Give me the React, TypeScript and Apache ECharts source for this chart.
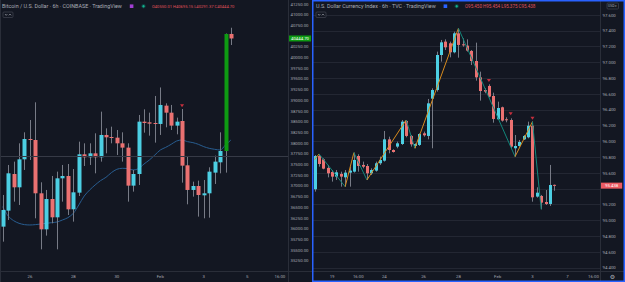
import React, { useEffect, useRef } from 'react';
import * as echarts from 'echarts';

// ---------- Left pane: Bitcoin / U.S. Dollar · 6h · COINBASE ----------
const leftOpen = [36048, 36422, 37278, 36967, 37621, 38096, 38073, 36827, 35985, 36694, 36266, 37177, 37232, 36453, 36842, 37738, 37668, 37761, 37668, 38190, 38143, 38127, 37995, 37894, 37006, 37278, 38501, 38486, 38470, 38447, 38875, 38711, 38408, 38517, 37481, 36905, 36998, 36780, 36827, 37310, 37551, 37816, 40550.01];
const leftHigh = [36788, 37489, 37567, 37995, 38252, 38540, 38953, 37084, 36905, 37232, 37333, 37489, 37512, 37395, 38034, 37995, 37995, 38229, 38735, 38345, 38384, 38306, 38252, 37995, 37372, 38657, 38789, 38711, 39101, 39300, 38929, 38891, 38595, 38797, 37683, 37099, 37123, 37138, 37434, 37707, 38252, 40560, 40695.15];
const leftLow = [35697, 36204, 36632, 36554, 37372, 37606, 36243, 35518, 35838, 36126, 35518, 36632, 36320, 36165, 36764, 37465, 37489, 37294, 37567, 37761, 37995, 37722, 37567, 36632, 36866, 37021, 38244, 38174, 38011, 38190, 38369, 38306, 38205, 37076, 36570, 36749, 36282, 36243, 36258, 37045, 37294, 37310, 40291.37];
const leftClose = [36437, 37294, 36967, 37621, 38096, 38073, 36827, 35985, 36694, 36266, 37177, 37232, 36453, 36850, 37738, 37668, 37761, 37668, 38190, 38135, 38127, 37995, 37894, 37006, 37278, 38501, 38470, 38454, 38447, 38891, 38711, 38408, 38501, 37473, 36905, 36998, 36788, 36827, 37333, 37567, 37816, 40550, 40444.7];
const leftMA = [36515, 36297, 36188, 36126, 36095, 36087, 36095, 36110, 36126, 36141, 36157, 36204, 36258, 36359, 36554, 36764, 36905, 37021, 37123, 37200, 37310, 37388, 37411, 37403, 37372, 37403, 37512, 37606, 37722, 37839, 37901, 37972, 38049, 38073, 38034, 38011, 37972, 37917, 37878, 37855, 37839, 37956, 38073];
const leftCategoryCount = 53;
const leftTickIndex = [5, 13, 21, 29, 37, 45, 51];
const leftTickText = ['26', '28', '30', 'Feb', '3', '5', '16:00'];
const leftHighlightIndex = 41;
const leftSignalIndex = [33];
const leftSignalValue = [38871];
const leftCrosshair = 37690;

// ---------- Right pane: U.S. Dollar Currency Index · 6h · TVC ----------
const rightOpen = [95.394, 95.815, 95.773, 95.664, 95.613, 95.554, 95.588, 95.545, 95.605, 95.617, 95.815, 95.702, 95.689, 95.596, 95.63, 95.723, 95.756, 96.026, 95.891, 95.934, 95.967, 96.259, 96.069, 95.942, 95.955, 96.102, 96.069, 96.541, 96.651, 97.094, 97.263, 97.242, 97.128, 97.368, 97.229, 97.212, 97.145, 97.018, 96.811, 96.651, 96.702, 96.575, 96.28, 96.432, 96.28, 96.271, 95.913, 95.942, 96.026, 96.052, 96.199, 95.301, 95.309, 95.233, 95.208, 95.45];
const rightHigh = [95.828, 95.841, 95.786, 95.702, 95.638, 95.638, 95.617, 95.638, 95.68, 95.858, 95.837, 95.744, 95.714, 95.659, 95.744, 95.807, 96.132, 96.06, 95.9, 95.997, 96.271, 96.271, 96.081, 95.976, 96.102, 96.124, 96.537, 96.672, 97.136, 97.284, 97.292, 97.263, 97.389, 97.432, 97.305, 97.292, 97.157, 97.25, 96.883, 96.672, 96.723, 96.617, 96.503, 96.44, 96.305, 96.292, 96.081, 96.018, 96.081, 96.25, 96.25, 95.419, 95.322, 95.385, 95.702, 95.454];
const rightLow = [95.364, 95.68, 95.647, 95.545, 95.491, 95.512, 95.427, 95.427, 95.427, 95.605, 95.617, 95.659, 95.512, 95.575, 95.617, 95.702, 95.744, 95.849, 95.858, 95.913, 95.955, 96.052, 95.934, 95.913, 95.942, 96.06, 96.026, 95.913, 96.63, 97.01, 97.157, 97.064, 97.115, 97.06, 97.199, 97.136, 96.967, 96.769, 96.516, 96.609, 96.558, 96.237, 96.271, 96.25, 96.242, 95.913, 95.807, 95.934, 96.018, 96.039, 95.237, 95.288, 95.14, 95.195, 95.183, 95.375];
const rightClose = [95.815, 95.714, 95.655, 95.596, 95.554, 95.609, 95.554, 95.605, 95.63, 95.765, 95.689, 95.68, 95.596, 95.638, 95.723, 95.765, 96.026, 95.891, 95.866, 95.976, 96.25, 96.069, 95.963, 95.967, 96.094, 96.077, 96.482, 96.651, 97.094, 97.254, 97.191, 97.128, 97.368, 97.221, 97.216, 97.149, 97.018, 96.811, 96.638, 96.63, 96.567, 96.284, 96.423, 96.263, 96.271, 95.934, 95.942, 95.993, 96.069, 96.199, 95.292, 95.351, 95.225, 95.208, 95.448, 95.438];
const rightZigIndex = [0, 1, 7, 9, 12, 21, 23, 33, 46, 50, 52];
const rightZigValue = [95.77, 95.841, 95.427, 95.858, 95.512, 96.271, 95.913, 97.432, 95.807, 96.25, 95.14];
const rightCategoryCount = 66;
const rightTickIndex = [4, 10, 16, 25, 33, 42, 50, 58, 64];
const rightTickText = ['19', '16:00', '24', '26', '28', 'Feb', '3', '7', '16:00'];
const rightSignalIndex = [40, 45, 50];
const rightSignalValue = [96.771, 96.349, 96.294];

// ---------- styles ----------
const BG = '#131722';
const TXT = '#a5a8b1';
const SEP = '#2a2e39';
const GRIDC = '#232733';
const UP = '#4ccfe3';
const DOWN = '#ea7171';
const HIGHLIGHT = '#0e9a12';
const WICK = '#777b86';
const MA = '#285d90';
const ORANGE = '#d88b1d';
const TEAL = '#12877b';
const SIGNAL = '#f23645';
const BLUE = '#2962ff';
const FONT = 'Roboto, "Liberation Sans", sans-serif';

function candleRenderer(up: string, down: string, ratio: number, special: Record<number, string>) {
  return (_params: any, api: any) => {
    const i = api.value(0);
    const o = api.value(1);
    const h = api.value(2);
    const l = api.value(3);
    const c = api.value(4);
    const pO = api.coord([i, o]);
    const yC = api.coord([i, c])[1];
    const yH = api.coord([i, h])[1];
    const yL = api.coord([i, l])[1];
    const band = api.size([1, 0])[0];
    const w = Math.max(1, Math.round(band * ratio));
    const cx = Math.round(pO[0]) + 0.5;
    const top = Math.min(pO[1], yC);
    const bh = Math.max(1, Math.abs(pO[1] - yC));
    const fill = special[i] || (c >= o ? up : down);
    return {
      type: 'group',
      children: [
        { type: 'line', shape: { x1: cx, y1: yH, x2: cx, y2: yL }, style: { stroke: WICK, lineWidth: 1 } },
        { type: 'rect', shape: { x: cx - w / 2, y: top, width: w, height: bh }, style: { fill } },
      ],
    };
  };
}

function ticks(count: number, idx: number[], text: string[]) {
  const arr: string[] = new Array(count).fill('');
  idx.forEach((k, j) => (arr[k] = text[j]));
  return arr;
}

export default function App() {
  const ref = useRef<HTMLDivElement>(null);
  useEffect(() => {
    document.body.style.margin = '0';
    document.body.style.background = BG;
    if (!ref.current) return;
    const chart = echarts.init(ref.current, undefined, { renderer: 'svg' });

    const leftLabels = ticks(leftCategoryCount, leftTickIndex, leftTickText);
    const rightLabels = ticks(rightCategoryCount, rightTickIndex, rightTickText);
    const leftCandles = leftOpen.map((o, i) => [i, o, leftHigh[i], leftLow[i], leftClose[i]]);
    const rightCandles = rightOpen.map((o, i) => [i, o, rightHigh[i], rightLow[i], rightClose[i]]);
    const nL = leftOpen.length - 1;
    const nR = rightOpen.length - 1;
    const lastL = leftClose[nL];
    const lastR = rightClose[nR];

    const zigSeries = rightZigIndex.slice(0, -1).map((idx, k) => ({
      type: 'line',
      xAxisIndex: 1,
      yAxisIndex: 1,
      data: [[idx, rightZigValue[k]], [rightZigIndex[k + 1], rightZigValue[k + 1]]],
      symbol: 'none',
      showSymbol: false,
      silent: true,
      z: 4,
      lineStyle: { color: rightZigValue[k + 1] > rightZigValue[k] ? ORANGE : TEAL, width: 1 },
    }));

    const axisLabelBase = { fontSize: 4.3, color: TXT, fontFamily: FONT };

    const option: any = {
      animation: false,
      backgroundColor: BG,
      textStyle: { fontFamily: FONT },
      grid: [
        { left: 0, top: 4, width: 288, height: 267.5, outerBoundsMode: 'none' },
        { left: 312.5, top: 15, width: 287.5, height: 252.8, outerBoundsMode: 'none' },
      ],
      xAxis: [
        {
          type: 'category', gridIndex: 0, data: leftLabels.map((_, i) => 'L' + i), boundaryGap: true,
          axisLine: { show: false }, axisTick: { show: false }, splitLine: { show: false },
          axisLabel: { ...axisLabelBase, interval: 0, margin: 2.5, formatter: (_v: string, i: number) => leftLabels[i] },
        },
        {
          type: 'category', gridIndex: 1, data: rightLabels.map((_, i) => 'R' + i), boundaryGap: true,
          axisLine: { show: false }, axisTick: { show: false }, splitLine: { show: false },
          axisLabel: { ...axisLabelBase, interval: 0, margin: 6.2, formatter: (_v: string, i: number) => rightLabels[i] },
        },
      ],
      yAxis: [
        {
          type: 'value', gridIndex: 0, position: 'right', min: 35000, max: 41250, interval: 250,
          axisLine: { show: false }, axisTick: { show: false }, splitLine: { show: false },
          axisLabel: {
            ...axisLabelBase, margin: 2.5, showMinLabel: false,
            formatter: (v: number) => (Math.abs(v - lastL) < 150 ? '' : v.toFixed(2)),
          },
        },
        {
          type: 'value', gridIndex: 1, position: 'right', min: 94.4, max: 97.6, interval: 0.2,
          axisLine: { show: false }, axisTick: { show: false },
          splitLine: { show: true, lineStyle: { color: GRIDC, width: 1 } },
          axisLabel: {
            ...axisLabelBase, margin: 2.5,
            formatter: (v: number) => (Math.abs(v - lastR) < 0.08 ? '' : v.toFixed(3)),
          },
        },
      ],
      series: [
        {
          type: 'line', xAxisIndex: 0, yAxisIndex: 0, data: leftMA, symbol: 'none', showSymbol: false,
          smooth: 0.3, silent: true, z: 2, lineStyle: { color: MA, width: 1 },
          markLine: {
            silent: true, symbol: 'none', animation: false,
            data: [
              { yAxis: leftCrosshair, lineStyle: { color: '#363a46', width: 1, type: 'solid' }, label: { show: false } },
              {
                yAxis: lastL, lineStyle: { color: 'rgba(0,0,0,0)', width: 1 },
                label: {
                  show: true, position: 'end', distance: 1, formatter: () => lastL.toFixed(2),
                  backgroundColor: HIGHLIGHT, color: '#ffffff', fontSize: 4.3, fontFamily: FONT, padding: [1.2, 2, 0.8, 2],
                },
              },
            ],
          },
        },
        {
          type: 'custom', xAxisIndex: 0, yAxisIndex: 0, data: leftCandles, z: 3, silent: true,
          encode: { x: 0, y: [1, 2, 3, 4] },
          renderItem: candleRenderer(UP, DOWN, 0.72, { [leftHighlightIndex]: HIGHLIGHT }),
        },
        {
          type: 'scatter', xAxisIndex: 0, yAxisIndex: 0, z: 5, silent: true,
          data: leftSignalIndex.map((k, j) => [k, leftSignalValue[j]]),
          symbol: 'triangle', symbolRotate: 180, symbolSize: [4, 3], itemStyle: { color: SIGNAL },
        },
        {
          type: 'custom', xAxisIndex: 1, yAxisIndex: 1, data: rightCandles, z: 3, silent: true,
          encode: { x: 0, y: [1, 2, 3, 4] },
          renderItem: candleRenderer(UP, DOWN, 0.75, {}),
        },
        ...zigSeries,
        {
          type: 'scatter', xAxisIndex: 1, yAxisIndex: 1, z: 5, silent: true,
          data: rightSignalIndex.map((k, j) => [k, rightSignalValue[j]]),
          symbol: 'triangle', symbolRotate: 180, symbolSize: [4, 3], itemStyle: { color: SIGNAL },
          markLine: {
            silent: true, symbol: 'none', animation: false,
            data: [
              {
                yAxis: lastR, lineStyle: { color: 'rgba(0,0,0,0)', width: 1 },
                label: {
                  show: true, position: 'end', distance: 1, formatter: () => lastR.toFixed(3),
                  backgroundColor: '#ec5b63', color: '#ffffff', fontSize: 4.3, fontFamily: FONT, padding: [1.2, 4, 0.8, 4],
                },
              },
            ],
          },
        },
      ],
      graphic: [
        { type: 'line', silent: true, z: 50, shape: { x1: 0.5, y1: 0, x2: 0.5, y2: 282 }, style: { stroke: SEP, lineWidth: 1 } },
        { type: 'line', silent: true, z: 50, shape: { x1: 288.5, y1: 0, x2: 288.5, y2: 282 }, style: { stroke: SEP, lineWidth: 1 } },
        { type: 'line', silent: true, z: 50, shape: { x1: 0, y1: 271.5, x2: 312, y2: 271.5 }, style: { stroke: SEP, lineWidth: 1 } },
        { type: 'line', silent: true, z: 50, shape: { x1: 600.5, y1: 0, x2: 600.5, y2: 282 }, style: { stroke: SEP, lineWidth: 1 } },
        { type: 'line', silent: true, z: 50, shape: { x1: 312, y1: 271.5, x2: 625, y2: 271.5 }, style: { stroke: SEP, lineWidth: 1 } },
        { type: 'rect', silent: true, z: 60, shape: { x: 312.75, y: 0.75, width: 311.5, height: 280.5 }, style: { fill: 'none', stroke: BLUE, lineWidth: 1.5 } },
        // left header
        { type: 'text', silent: true, z: 60, x: 2, y: 6.2, style: { text: 'Bitcoin / U.S. Dollar · 6h · COINBASE · TradingView', fill: '#a9acb5', fontSize: 5.4, fontFamily: FONT, verticalAlign: 'middle' } },
        { type: 'rect', silent: true, z: 60, shape: { x: 129.8, y: 4.4, width: 3.6, height: 3.6 }, style: { fill: '#a13fd3' } },
        { type: 'circle', silent: true, z: 60, shape: { cx: 143.5, cy: 6.2, r: 2.2 }, style: { fill: 'rgba(8,153,129,0.3)' } },
        { type: 'circle', silent: true, z: 61, shape: { cx: 143.5, cy: 6.2, r: 1.2 }, style: { fill: '#13b38f' } },
        { type: 'text', silent: true, z: 60, x: 152, y: 6.2, style: { text: `O${leftOpen[nL].toFixed(2)} H${leftHigh[nL].toFixed(2)} L${leftLow[nL].toFixed(2)} C${leftClose[nL].toFixed(2)}`, fill: '#e0525a', fontSize: 4.1, fontFamily: FONT, verticalAlign: 'middle' } },
        { type: 'rect', silent: true, z: 60, shape: { x: 3, y: 12, width: 10, height: 5.5, r: 1 }, style: { fill: BG, stroke: '#434651', lineWidth: 0.7 } },
        { type: 'polyline', silent: true, z: 61, shape: { points: [[5, 14], [6.2, 15.4], [7.4, 14]] }, style: { stroke: '#b2b5be', lineWidth: 0.6, fill: 'none' } },
        { type: 'polyline', silent: true, z: 61, shape: { points: [[8.8, 15.4], [10, 14], [11.2, 15.4]] }, style: { stroke: '#b2b5be', lineWidth: 0.6, fill: 'none' } },
        // right header
        { type: 'text', silent: true, z: 60, x: 316, y: 6.2, style: { text: 'U.S. Dollar Currency Index · 6h · TVC · TradingView', fill: '#a9acb5', fontSize: 5.4, fontFamily: FONT, verticalAlign: 'middle' } },
        { type: 'rect', silent: true, z: 60, shape: { x: 443.6, y: 4.4, width: 3.6, height: 3.6 }, style: { fill: BLUE } },
        { type: 'circle', silent: true, z: 60, shape: { cx: 456.7, cy: 6.2, r: 2.2 }, style: { fill: 'rgba(8,153,129,0.3)' } },
        { type: 'circle', silent: true, z: 61, shape: { cx: 456.7, cy: 6.2, r: 1.2 }, style: { fill: '#13b38f' } },
        { type: 'text', silent: true, z: 60, x: 465, y: 6.2, style: { text: `O${rightOpen[nR].toFixed(3)} H${rightHigh[nR].toFixed(3)} L${rightLow[nR].toFixed(3)} C${rightClose[nR].toFixed(3)}`, fill: '#e0525a', fontSize: 4.5, fontFamily: FONT, verticalAlign: 'middle' } },
        { type: 'rect', silent: true, z: 60, shape: { x: 316, y: 12, width: 10, height: 5.5, r: 1 }, style: { fill: BG, stroke: '#434651', lineWidth: 0.7 } },
        { type: 'polyline', silent: true, z: 61, shape: { points: [[318, 14], [319.2, 15.4], [320.4, 14]] }, style: { stroke: '#b2b5be', lineWidth: 0.6, fill: 'none' } },
        { type: 'polyline', silent: true, z: 61, shape: { points: [[321.8, 15.4], [323, 14], [324.2, 15.4]] }, style: { stroke: '#b2b5be', lineWidth: 0.6, fill: 'none' } },
        { type: 'rect', silent: true, z: 60, shape: { x: 607, y: 3, width: 11.5, height: 6, r: 1 }, style: { fill: BG, stroke: '#434651', lineWidth: 0.7 } },
        { type: 'text', silent: true, z: 61, x: 612.75, y: 6.1, style: { text: 'USD ▾', fill: '#a9acb5', fontSize: 3.4, fontFamily: FONT, align: 'center', verticalAlign: 'middle' } },
        { type: 'text', silent: true, z: 61, x: 612.5, y: 276.5, style: { text: '⚙', fill: '#a9acb5', fontSize: 6, fontFamily: '"DejaVu Sans", sans-serif', align: 'center', verticalAlign: 'middle' } },
      ],
    };

    chart.setOption(option);
    return () => chart.dispose();
  }, []);

  return <div ref={ref} style={{ position: 'fixed', left: 0, top: 0, width: 625, height: 282 }} />;
}
